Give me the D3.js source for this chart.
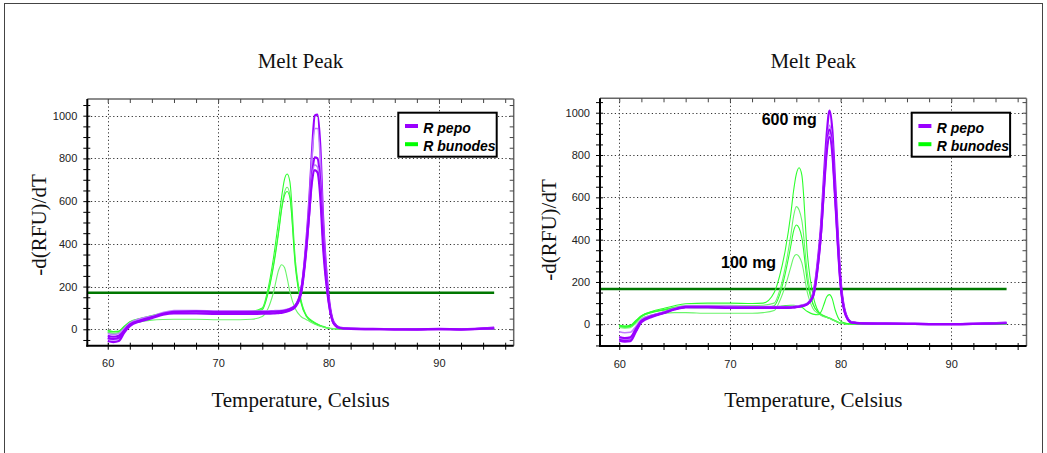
<!DOCTYPE html>
<html>
<head>
<meta charset="utf-8">
<script src="https://cdn.jsdelivr.net/npm/d3@7"></script>
<style>
  html, body { margin: 0; padding: 0; background: #fff; }
  svg { display: block; }
</style>
</head>
<body>
<svg id="chart" width="1047" height="453"></svg>
<script>
// ---------------- DATA ----------------
const temps = [60, 60.5, 61, 61.5, 62, 63, 64, 65, 66, 68, 70, 72, 73, 74, 74.5, 75, 75.5, 75.75, 76, 76.25,
               76.5, 77, 77.5, 78, 78.25, 78.5, 78.75, 79, 79.25, 79.5, 80, 80.5, 81, 82, 84, 86, 88, 90, 92, 95];

const xTicksMajor = [60, 70, 80, 90];
const yTicksMajor = [0, 200, 400, 600, 800, 1000];

const seriesNames = ["R pepo", "R bunodes"];

// Left panel, R pepo traces
const pepoLeft = [
  [-30,-35,-30,0,25,45,58,72,80,82, 80,80,80,80,80,80,82,83,85,88, 92,110,175,420,600,830,1000,1005,860,530, 160,30,8,3,2,1,0,2,0,8],
  [-45,-50,-45,-10,20,40,55,70,78,78, 76,76,76,76,77,77,79,80,82,85, 90,108,170,400,590,800,940,940,800,500, 150,28,7,3,1,1,0,1,0,6],
  [-55,-60,-55,-15,15,38,52,68,75,74, 72,72,72,73,73,74,76,77,80,83, 88,105,165,380,540,720,805,800,690,440, 140,25,6,2,1,0,0,1,0,5],
  [-20,-25,-20,5,30,50,62,78,88,88, 86,86,86,86,86,87,88,89,91,94, 98,115,185,400,560,710,770,760,650,410, 135,25,6,2,1,0,0,1,0,5],
  [-40,-45,-40,-5,22,42,57,72,82,84, 82,82,82,82,82,83,84,85,87,90, 95,112,180,390,545,690,745,735,620,390, 130,24,6,2,1,0,0,1,0,4]
];
// Left panel, R bunodes traces
const bunodesLeft = [
  [-5,-10,-8,15,35,52,65,75,80,82, 82,82,84,100,185,330,520,620,700,727, 690,320,140,65,50,40,32,25,18,14, 6,3,2,1,0,0,0,0,0,0],
  [-15,-20,-15,10,30,50,63,74,80,80, 80,80,82,95,170,300,470,570,640,665, 630,300,130,60,45,36,28,22,16,12, 5,3,2,1,0,0,0,0,0,0],
  [-8,-12,-10,12,32,50,62,72,78,80, 79,79,81,92,165,290,460,560,625,645, 615,290,125,60,45,36,28,22,16,12, 5,3,2,1,0,0,0,0,0,0],
  [-12,-18,-15,5,22,36,43,46,47,47, 45,45,47,60,95,170,280,302,290,240, 175,95,60,45,38,30,24,18,14,10, 5,3,2,1,0,0,0,0,0,0]
];
// Right panel, R pepo traces
const pepoRight = [
  [-70,-75,-72,-30,15,40,55,72,82,83, 82,80,80,80,80,80,80,81,82,84, 87,97,140,330,480,700,900,1010,920,680, 210,45,10,5,3,2,1,1,2,8],
  [-65,-70,-68,-25,18,42,57,74,84,85, 84,82,82,82,82,82,82,83,84,86, 89,98,135,310,450,660,850,940,860,640, 200,42,9,5,3,2,1,1,2,7],
  [-78,-82,-80,-35,10,36,52,70,80,80, 78,78,78,78,78,78,79,80,81,83, 86,95,130,300,440,650,840,920,840,620, 195,40,9,4,3,2,1,1,2,6],
  [-35,-40,-38,-10,22,44,58,75,86,86, 85,84,84,84,84,84,84,85,86,88, 91,100,140,320,460,660,830,900,820,610, 190,40,9,4,3,2,1,1,2,6],
  [-60,-65,-62,-22,16,40,54,72,82,82, 80,80,80,80,80,80,80,81,82,84, 87,96,132,305,445,640,815,885,810,600, 185,38,8,4,3,2,1,1,2,5]
];
// Right panel, R bunodes traces
const bunodesRight = [
  [-5,-10,-8,15,40,62,75,88,97,100, 100,98,100,150,230,350,520,630,710,740, 705,330,140,60,48,40,35,30,24,18, 6,2,1,0,0,0,0,0,0,2],
  [-10,-15,-12,10,35,58,70,82,88,90, 90,88,90,100,160,270,420,510,556,540, 490,240,100,55,44,38,33,28,22,16, 5,2,1,0,0,0,0,0,0,0],
  [-3,-8,-5,18,40,60,68,78,80,78, 77,76,78,88,140,240,370,440,469,455, 410,200,95,55,44,38,33,28,22,16, 5,2,1,0,0,0,0,0,0,0],
  [-15,-18,-16,5,28,45,52,55,55,52, 52,52,55,65,110,180,270,315,330,320, 290,150,75,50,42,36,32,27,20,15, 5,2,1,0,0,0,0,0,0,0],
  [-8,-13,-10,12,36,56,66,78,82,84, 82,80,80,82,85,88,90,90,88,85, 80,60,48,45,60,95,130,140,120,70, 15,5,2,1,0,0,0,0,0,3]
];

const thresholdLeft = 171;
const thresholdRight = 167;
const thresholdEnd = 95;

// ---------------- DRAWING ----------------
const svg = d3.select("#chart");
const SERIF = "'Liberation Serif','Times New Roman',Times,serif";
const SANS = "'Liberation Sans',Arial,Helvetica,sans-serif";
const PURPLE = "#9a00ff";
const PURPLE_LIGHT = "#c07cff";
const GREEN = "#2cff2c";
const GREEN_LIGHT = "#6af56a";
const GREEN_DARK = "#007700";

// outer frame
svg.append("rect").attr("x", 4.5).attr("y", 3.5).attr("width", 1038).attr("height", 470)
  .attr("fill", "none").attr("stroke", "#444").attr("stroke-width", 1);

function drawPanel(cfg) {
  const g = svg.append("g");
  const x = d3.scaleLinear().domain(cfg.xDomain).range([cfg.left, cfg.right]);
  const y = d3.scaleLinear().domain(cfg.yDomain).range([cfg.bottom, cfg.top]);
  const clipId = "clip" + cfg.id;
  svg.append("defs").append("clipPath").attr("id", clipId)
    .append("rect").attr("x", cfg.left).attr("y", cfg.top)
    .attr("width", cfg.right - cfg.left).attr("height", cfg.bottom - cfg.top);

  // gridlines (dotted)
  const grid = g.append("g").attr("stroke", "#333").attr("stroke-width", 1)
    .attr("stroke-dasharray", "1.2,2.5");
  yTicksMajor.forEach(v => grid.append("line")
    .attr("x1", cfg.left).attr("x2", cfg.right)
    .attr("y1", Math.round(y(v)) + 0.5).attr("y2", Math.round(y(v)) + 0.5));
  xTicksMajor.forEach(v => grid.append("line")
    .attr("y1", cfg.top).attr("y2", cfg.bottom)
    .attr("x1", Math.round(x(v)) + 0.5).attr("x2", Math.round(x(v)) + 0.5));

  // top / right frame with inward ticks
  const minorX = d3.range(60, 97, 2);
  const minorY = d3.range(-100, 1100, 50).filter(v => v >= cfg.yDomain[0] && v <= cfg.yDomain[1]);
  g.append("line").attr("x1", cfg.left).attr("x2", cfg.right).attr("y1", cfg.top).attr("y2", cfg.top)
    .attr("stroke", "#666").attr("stroke-width", 1.5);
  g.append("line").attr("x1", cfg.right).attr("x2", cfg.right).attr("y1", cfg.top).attr("y2", cfg.bottom)
    .attr("stroke", "#666").attr("stroke-width", 1.5);
  const topAxis = d3.axisTop(x).tickValues(minorX).tickSize(-4).tickFormat("");
  g.append("g").attr("transform", `translate(0,${cfg.top})`).call(topAxis)
    .call(s => { s.select(".domain").remove(); s.selectAll("line").attr("stroke", "#444"); });
  const rightAxis = d3.axisRight(y).tickValues(minorY).tickSize(-4).tickFormat("");
  g.append("g").attr("transform", `translate(${cfg.right},0)`).call(rightAxis)
    .call(s => { s.select(".domain").remove(); s.selectAll("line").attr("stroke", "#444"); });

  // threshold line
  g.append("line")
    .attr("x1", cfg.left).attr("x2", x(thresholdEnd))
    .attr("y1", y(cfg.threshold)).attr("y2", y(cfg.threshold))
    .attr("stroke", GREEN_DARK).attr("stroke-width", 2.5);

  // curves
  const line = d3.line().x((d, i) => x(temps[i])).y(d => y(d)).curve(d3.curveMonotoneX);
  const curves = g.append("g").attr("clip-path", `url(#${clipId})`).attr("fill", "none");
  cfg.bunodes.forEach((vals, i) => curves.append("path").attr("d", line(vals))
    .attr("stroke", i % 2 ? GREEN_LIGHT : GREEN).attr("stroke-width", 1.1));
  cfg.pepo.forEach((vals, i) => curves.append("path").attr("d", line(vals))
    .attr("stroke", i % 2 ? PURPLE_LIGHT : PURPLE).attr("stroke-width", i % 2 ? 1.6 : 2.2));

  // left axis
  const leftAxis = d3.axisLeft(y).tickValues(minorY).tickSize(4).tickFormat("");
  g.append("g").attr("transform", `translate(${cfg.left},0)`).call(leftAxis)
    .call(s => { s.select(".domain").remove();
      s.selectAll("line").attr("stroke", "#000").attr("x2", -4).attr("x1", 3); });
  g.append("line").attr("x1", cfg.left).attr("x2", cfg.left).attr("y1", cfg.top).attr("y2", cfg.bottom + 1)
    .attr("stroke", "#000").attr("stroke-width", 2);
  const yLabels = d3.axisLeft(y).tickValues(yTicksMajor).tickSize(0).tickPadding(10).tickFormat(d3.format("d"));
  g.append("g").attr("transform", `translate(${cfg.left},0)`).call(yLabels)
    .call(s => { s.select(".domain").remove();
      s.selectAll("text").attr("font-family", SANS).attr("font-size", 11).attr("fill", "#222"); });

  // bottom axis
  const bottomAxis = d3.axisBottom(x).tickValues(minorX).tickSize(4).tickFormat("");
  g.append("g").attr("transform", `translate(0,${cfg.bottom})`).call(bottomAxis)
    .call(s => { s.select(".domain").remove();
      s.selectAll("line").attr("stroke", "#000").attr("y1", -3).attr("y2", 4); });
  g.append("line").attr("x1", cfg.left - 1).attr("x2", cfg.right).attr("y1", cfg.bottom).attr("y2", cfg.bottom)
    .attr("stroke", "#000").attr("stroke-width", 2);
  const xLabels = d3.axisBottom(x).tickValues(xTicksMajor).tickSize(0).tickPadding(14).tickFormat(d3.format("d"));
  g.append("g").attr("transform", `translate(0,${cfg.bottom})`).call(xLabels)
    .call(s => { s.select(".domain").remove();
      s.selectAll("text").attr("font-family", SANS).attr("font-size", 11).attr("fill", "#222"); });

  // titles
  const cx = (cfg.left + cfg.right) / 2;
  g.append("text").attr("x", cx).attr("y", 68).attr("text-anchor", "middle")
    .attr("font-family", SERIF).attr("font-size", 21).attr("fill", "#111").text("Melt Peak");
  g.append("text").attr("x", cx).attr("y", 407).attr("text-anchor", "middle")
    .attr("font-family", SERIF).attr("font-size", 21).attr("fill", "#111").text("Temperature, Celsius");
  g.append("text").attr("transform", `translate(${cfg.yLabelX},${cfg.yLabelY}) rotate(-90)`)
    .attr("text-anchor", "middle")
    .attr("font-family", SERIF).attr("font-size", 21).attr("fill", "#111").text("-d(RFU)/dT");

  // legend
  const lg = g.append("g").attr("transform", `translate(${cfg.legendX},112.7)`);
  lg.append("rect").attr("x", 0).attr("y", 0).attr("width", 98.4).attr("height", 44)
    .attr("fill", "#fff").attr("stroke", "#000").attr("stroke-width", 2);
  [PURPLE, "#00ff00"].forEach((c, i) => {
    lg.append("line").attr("x1", 6.7).attr("x2", 19.7).attr("y1", 13.3 + i * 18.2).attr("y2", 13.3 + i * 18.2)
      .attr("stroke", c).attr("stroke-width", 4);
    lg.append("text").attr("x", 25).attr("y", 20.6 + i * 17.6)
      .attr("font-family", SANS).attr("font-size", 14).attr("font-style", "italic").attr("font-weight", "bold")
      .attr("fill", "#000").text(seriesNames[i]);
  });

  (cfg.notes || []).forEach(n => g.append("text").attr("x", n.x).attr("y", n.y)
    .attr("font-family", SANS).attr("font-size", 16).attr("font-weight", "bold").attr("fill", "#000").text(n.text));
}

drawPanel({
  id: "L", left: 87.3, right: 513.7, top: 99, bottom: 345.7,
  xDomain: [58.15, 96.77], yDomain: [-76.8, 1078.2],
  pepo: pepoLeft, bunodes: bunodesLeft, threshold: thresholdLeft,
  yLabelX: 46, yLabelY: 225, legendX: 398.3
});
drawPanel({
  id: "R", left: 600, right: 1026.5, top: 98.3, bottom: 346,
  xDomain: [58.26, 96.8], yDomain: [-102.6, 1068],
  pepo: pepoRight, bunodes: bunodesRight, threshold: thresholdRight,
  yLabelX: 556, yLabelY: 230, legendX: 911.7,
  notes: [{ x: 761.7, y: 125, text: "600 mg" }, { x: 721, y: 268, text: "100 mg" }]
});
</script>
</body>
</html>
